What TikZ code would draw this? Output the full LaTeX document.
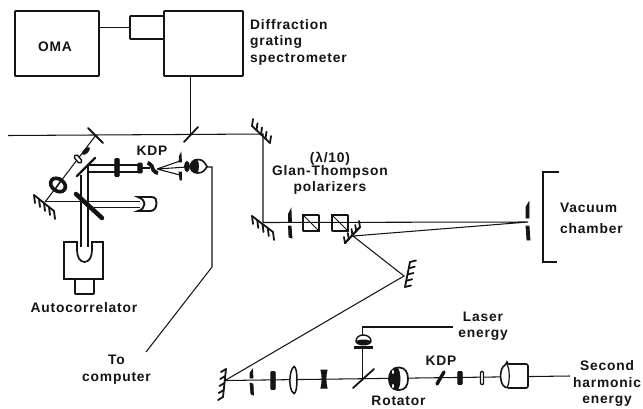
\documentclass[tikz,border=0pt]{standalone}
\usepackage{fontspec}
\setmainfont{Liberation Sans}[LetterSpace=6]
\usetikzlibrary{calc}
\definecolor{ink}{gray}{0.08}
\tikzset{
 beam/.style={line width=1.05pt,ink},
 frame/.style={draw=ink,line width=1.7pt,rounded corners=0.6pt,inner sep=0pt},
 lbl/.style={font=\bfseries\fontsize{13.8}{16.5}\selectfont,align=center,inner sep=0pt,text=ink},
 mirrorline/.style={line width=1.8pt,ink,line cap=round},
 part/.style={draw=ink,fill=white,line width=1.4pt,inner sep=0pt},
 dark/.style={draw=ink,fill=ink,line width=0.8pt},
}
\newcommand{\hatchmirror}[3]{%
 \draw[mirrorline] #1 -- #2;
 \foreach \t in {0,0.25,0.5,0.75,1}{\draw[mirrorline] ($#1!\t!#2$) -- ++#3;}}
\newcommand{\lensbar}[4]{\draw[dark,rounded corners=1pt] (#1-#3/2,#2-#4/2) rectangle (#1+#3/2,#2+#4/2);}
\begin{document}
\begin{tikzpicture}[x=1pt,y=-1pt]
\useasboundingbox (0,0) rectangle (643,408);
\fill[white] (0,0) rectangle (643,408);
% top boxes
\node[frame,minimum width=84pt,minimum height=65pt] (oma) at (57,43.5) {};
\node[lbl] (omalbl) at (55,47) {OMA};
\node[frame,minimum width=79pt,minimum height=65pt] (spec) at (203.5,43.5) {};
\node[frame,minimum width=34pt,minimum height=23pt] (slit) at (147,27.5) {};
\draw[beam] (oma.east |- slit) -- (slit.west);
\node[lbl,align=left,anchor=west] (speclbl) at (250,42) {Diffraction\\grating\\spectrometer};
% main beam
\coordinate (bsA) at (190.5,134.5);
\coordinate (bsL) at (96,135);
\coordinate (mT) at (263,134);
\coordinate (mB) at (263,222.5);
\coordinate (beamstart) at (8,135.5);
\draw[beam] (beamstart) -- (mT) -- (mB);
\draw[beam] (bsA) -- (bsA |- spec.south);
\draw[mirrorline] (184,142) -- (198,127);
\draw[mirrorline] (88,128) -- (103,143);
% autocorrelator arm
\coordinate (mAuto) at (45,202);
\draw[beam] (bsL) -- (mAuto);
\hatchmirror{(34,195)}{(54,211)}{(1,8)}
\draw[dark,rotate around={-45:(86,151)}] (86,151) ellipse (2pt and 4.5pt);
\draw[part,rounded corners=1.5pt,rotate around={40:(78,159)}] (76,154.5) rectangle (80,163.5);
\draw[ink,fill=white,line width=3.6pt,rotate around={-35:(58,185)}] (58,185) ellipse (8pt and 6pt);
\draw[ink,line width=1.6pt,rotate around={-35:(58,185)}] (58,180) -- (58,190);
% double beams
\draw[beam] (81,175) -- (81,246) (88,165) -- (88,246);
\draw[beam] (87,165) -- (138,165) (88,172) -- (138,172);
\draw[beam] (45,201.5) -- (140,201.5);
\draw[beam] (92,207.5) -- (140,207.5);
\draw[mirrorline,line width=2.2pt] (77,176) -- (95,158);
\draw[line width=4.5pt,ink,line cap=round] (76,194) -- (102,218);
% upper path elements
\lensbar{117}{167.5}{4.5}{18}
\lensbar{140}{168}{4.5}{10}
\draw[beam] (142,168) -- (150,168);
\draw[line width=3.8pt,ink,rounded corners=2pt] (147.5,163) -- (151,164) -- (154,172) -- (158,173);
\draw[beam] (157,169) -- (180,161) (157,169) -- (180,175) (157,169) -- (187,167);
\draw[dark] (179,162) -- (179.5,156) -- (181,153) -- (181.5,162) -- cycle;
\draw[dark] (179,172) -- (181.5,172) -- (181.5,180) -- (180,180) -- cycle;
\draw[dark] (187,166.5) ellipse (2.5pt and 5pt);
\draw[part,line width=1.6pt] (198,159.5) .. controls (203,159.5) and (205,163) .. (207,166.5) .. controls (205,170) and (203,173) .. (198,173) .. controls (193,173) and (190.5,170) .. (190.5,166.5) .. controls (190.5,163) and (193,159.5) .. (198,159.5) -- cycle;
\draw[dark] (197,159.5) .. controls (193,159.5) and (190.5,163) .. (190.5,166.5) .. controls (190.5,170) and (193,173) .. (197,173) .. controls (199,170) and (199,163) .. (197,159.5) -- cycle;
\coordinate (detOut) at (207,167);
\coordinate (comA) at (212,167);
\coordinate (comB) at (212,267);
\coordinate (comC) at (146,352);
\draw[beam] (detOut) -- (comA) -- (comB) -- (comC);
\node[lbl] (kdpa) at (152,151) {KDP};
% lower detector
\draw[part,line width=1.9pt] (138,197) -- (151,197) .. controls (156,197) and (156.5,200) .. (156.5,203) .. controls (156.5,208) and (154,211) .. (150,211) -- (138,211) .. controls (146,209) and (147,200) .. (138,197) -- cycle;
% autocorrelator
\draw[draw=ink,line width=1.7pt,fill=white] (64,242) -- (77,242) -- (77,250) .. controls (77,257) and (80,262) .. (84.5,262) .. controls (89,262) and (92,257) .. (92,250) -- (92,242) -- (103,242) -- (103,279) -- (64,279) -- cycle;
\draw[beam] (81,242) -- (81,247) (88,242) -- (88,247);
\node[frame,minimum width=19pt,minimum height=15pt] (acB) at (84.5,286.5) {};
\node[lbl] (aclbl) at (84,308) {Autocorrelator};
\node[lbl] (tolbl) at (116.5,369.5) {To\\computer};
% polarizer arm
\hatchmirror{(252,126)}{(270,143)}{(1,-7)}
\hatchmirror{(252,216)}{(273,232)}{(1,8)}
\coordinate (apR) at (528,222);
\coordinate (mS) at (353,236);
\coordinate (mC) at (404,276);
\coordinate (mD) at (225,380.5);
\draw[beam] (mB) -- (apR) -- (mS) -- (mC) -- (mD);
\draw[dark] (288.5,222) -- (288.5,214) -- (291,209) -- (291.5,222) -- cycle;
\draw[dark] (288.5,226) -- (291,226) -- (292,238) -- (289,237) -- cycle;
\node[frame,minimum width=16pt,minimum height=16pt] (gt1) at (311,223) {};
\node[frame,minimum width=16pt,minimum height=16pt] (gt2) at (340,223) {};
\draw[beam] (gt1.north west) -- (gt1.south east);
\draw[beam] (gt2.north west) -- (gt2.south east);
\draw[mirrorline,line width=2.2pt] (345,243) -- (360,227);
\foreach \t in {0,0.25,0.5,0.75,1}{\draw[mirrorline] ($(345,243)!\t!(360,227)$) -- ++(-1,-6);}
\draw[dark] (526,218) -- (526,207) -- (529,202) -- (529,218) -- cycle;
\draw[dark] (526,226) -- (529,226) -- (530,240) -- (527,240) -- cycle;
\node[lbl] (lam) at (330,159) {(λ/10)};
\node[lbl] (gtl) at (330,180) {Glan-Thompson\\polarizers};
\draw[line width=1.7pt,ink] (559,172) -- (543,172) -- (543,262) -- (557,262);
\node[lbl,align=left,anchor=west] (vac) at (560,218.5) {Vacuum\\[4pt]chamber};
\hatchmirror{(410,262)}{(405,287)}{(6,-1.5)}
% bottom line
\hatchmirror{(226,369)}{(223,397)}{(-5,3)}
\coordinate (lineEnd) at (570,376);
\draw[beam] (mD) -- (lineEnd);
\draw[dark] (250,378) -- (250,373) -- (252.5,369.5) -- (253,378) -- cycle;
\draw[dark] (250,383) -- (253,384) -- (253.5,395) -- (251,394) -- cycle;
\lensbar{273}{380.5}{4.5}{18}
\draw[part,line width=1.5pt] (294,366.5) .. controls (289,370) and (288,390) .. (294,393.5) .. controls (298,393) and (298,367) .. (294,366.5) -- cycle;
\draw[dark,line width=1pt] (321,370) -- (327,370) .. controls (325.5,375) and (325.5,383) .. (327,388) -- (321,388) .. controls (322.5,383) and (322.5,375) .. (321,370) -- cycle;
\draw[mirrorline] (353,388) -- (374,369);
\coordinate (bsB) at (362.5,379);
\coordinate (ld) at (362.5,347);
\draw[beam] (bsB) -- (ld);
\draw[line width=2.2pt,ink] (354,347.5) -- (373,347.5);
\draw[part,line width=1.4pt] (356,341) .. controls (356,337) and (360,335) .. (363,335) .. controls (367,335) and (371,337) .. (371,341) .. controls (371,346) and (356,346) .. (356,341) -- cycle;
\draw[dark,line width=1pt] (356.5,341.5) .. controls (358,345) and (369,345) .. (370.5,341.5) .. controls (368,339.5) and (359,339.5) .. (356.5,341.5) -- cycle;
\coordinate (ldTop) at (362.5,335);
\coordinate (ldA) at (362.5,327);
\coordinate (ldB) at (453,327);
\draw[beam] (ldTop) -- (ldA) -- (ldB);
% rotator
\draw[part,line width=1.7pt] (399,367.5) .. controls (405,367.5) and (408,372) .. (408,379) .. controls (408,386) and (405,390) .. (399,390) .. controls (392,390) and (389,385) .. (389,379) .. controls (389,373) and (392,367.5) .. (399,367.5) -- cycle;
\draw[dark] (397,367.5) .. controls (392,367.5) and (389,373) .. (389,379) .. controls (389,385) and (392,390) .. (397,390) .. controls (401,387) and (401,371) .. (397,367.5) -- cycle;
\fill[white] (393,372) ellipse (1pt and 2pt) (393,386) ellipse (1pt and 2pt);
\node[lbl] (rot) at (398.5,400.5) {Rotator};
\node[lbl] (kdpb) at (441,361) {KDP};
\draw[line width=3.4pt,ink,line cap=round] (437,384) -- (444,372);
\lensbar{460}{378}{4.5}{13}
\draw[part,line width=1.4pt,rounded corners=1pt] (480.5,371.5) rectangle (483.5,384.5);
\draw[part,line width=1.6pt,rounded corners=2pt] (507,364) -- (528,364) -- (528,388) -- (507,388) .. controls (499,384) and (499,368) .. (507,364) -- cycle;
\draw[ink,line width=1.2pt] (507,364) .. controls (510,370) and (510,382) .. (507,388);
\node[lbl] (lase) at (483,326) {Laser\\energy};
\node[lbl] (shg) at (607,383.5) {Second\\harmonic\\energy};
\end{tikzpicture}
\end{document}
